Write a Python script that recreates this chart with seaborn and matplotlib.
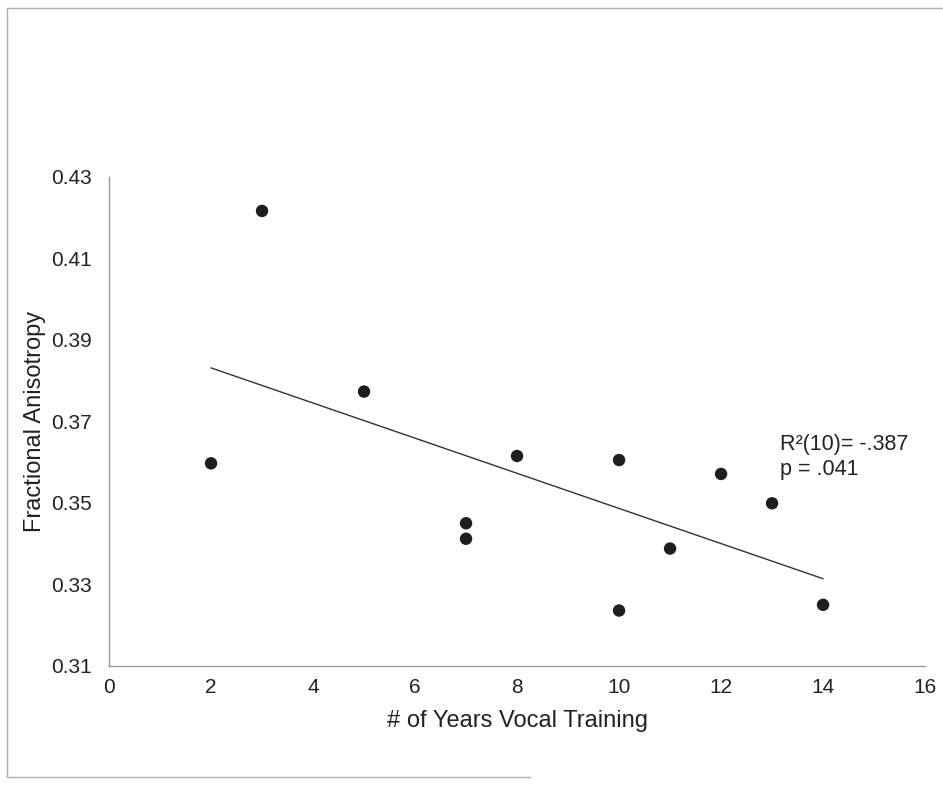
import matplotlib
matplotlib.use("Agg")
import matplotlib.pyplot as plt
import seaborn as sns
import pandas as pd
from matplotlib.lines import Line2D

years = [2, 3, 5, 7, 7, 8, 10, 10, 11, 12, 13, 14]
fa = [0.3597, 0.4216, 0.3773, 0.3450, 0.3412, 0.3615, 0.3605, 0.3236, 0.3388, 0.3571, 0.3499, 0.3250]
x_ticks = [0, 2, 4, 6, 8, 10, 12, 14, 16]
y_ticks = [0.31, 0.33, 0.35, 0.37, 0.39, 0.41, 0.43]
stat_text = "R²(10)= -.387\np = .041"

df = pd.DataFrame({"years": years, "fa": fa})

sns.set_style("white")
plt.rcParams["font.family"] = ["Liberation Sans", "DejaVu Sans"]

fig = plt.figure(figsize=(9.43, 7.86), dpi=100)
ax = fig.add_axes([0.1156, 0.1527, 0.981 - 0.1156, 0.7752 - 0.1527])

sns.regplot(data=df, x="years", y="fa", ax=ax, ci=None, truncate=True,
            scatter_kws=dict(s=80, color="#1e1e1e", edgecolors="none", alpha=1),
            line_kws=dict(color="#333333", linewidth=1.0))

ax.set_xlim(0, 16)
ax.set_ylim(0.31, 0.43)
ax.set_xticks(x_ticks)
ax.set_xticklabels([str(t) for t in x_ticks])
ax.set_yticks(y_ticks)
ax.set_yticklabels([f"{t:.2f}" for t in y_ticks])

for s in ["top", "right"]:
    ax.spines[s].set_visible(False)
for s in ["left", "bottom"]:
    ax.spines[s].set_color("#9a9a9a")
    ax.spines[s].set_linewidth(1.0)

ax.tick_params(axis="both", which="major", direction="out", length=5, width=0.8,
               color="#9a9a9a", labelsize=15, labelcolor="#222222", pad=7)
ax.tick_params(axis="x", pad=4)

ax.set_xlabel("# of Years Vocal Training", fontsize=17, color="#222222", labelpad=9)
ax.set_ylabel("Fractional Anisotropy", fontsize=17, color="#222222", labelpad=4)

ax.text(13.15, 0.3613, stat_text, fontsize=15.5, color="#222222",
        ha="left", va="center", linespacing=1.25)

# outer scanned border
border_kw = dict(color="#b0b0b0", linewidth=1.0, transform=fig.transFigure)
fig.add_artist(Line2D([7 / 943, 1.0], [1 - 8 / 786, 1 - 8 / 786], **border_kw))
fig.add_artist(Line2D([7 / 943, 7 / 943], [1 - 8 / 786, 1 - 777 / 786], **border_kw))
fig.add_artist(Line2D([7 / 943, 530 / 943], [1 - 777 / 786, 1 - 777 / 786], **border_kw))

fig.savefig("out.png", dpi=100, facecolor="white")
